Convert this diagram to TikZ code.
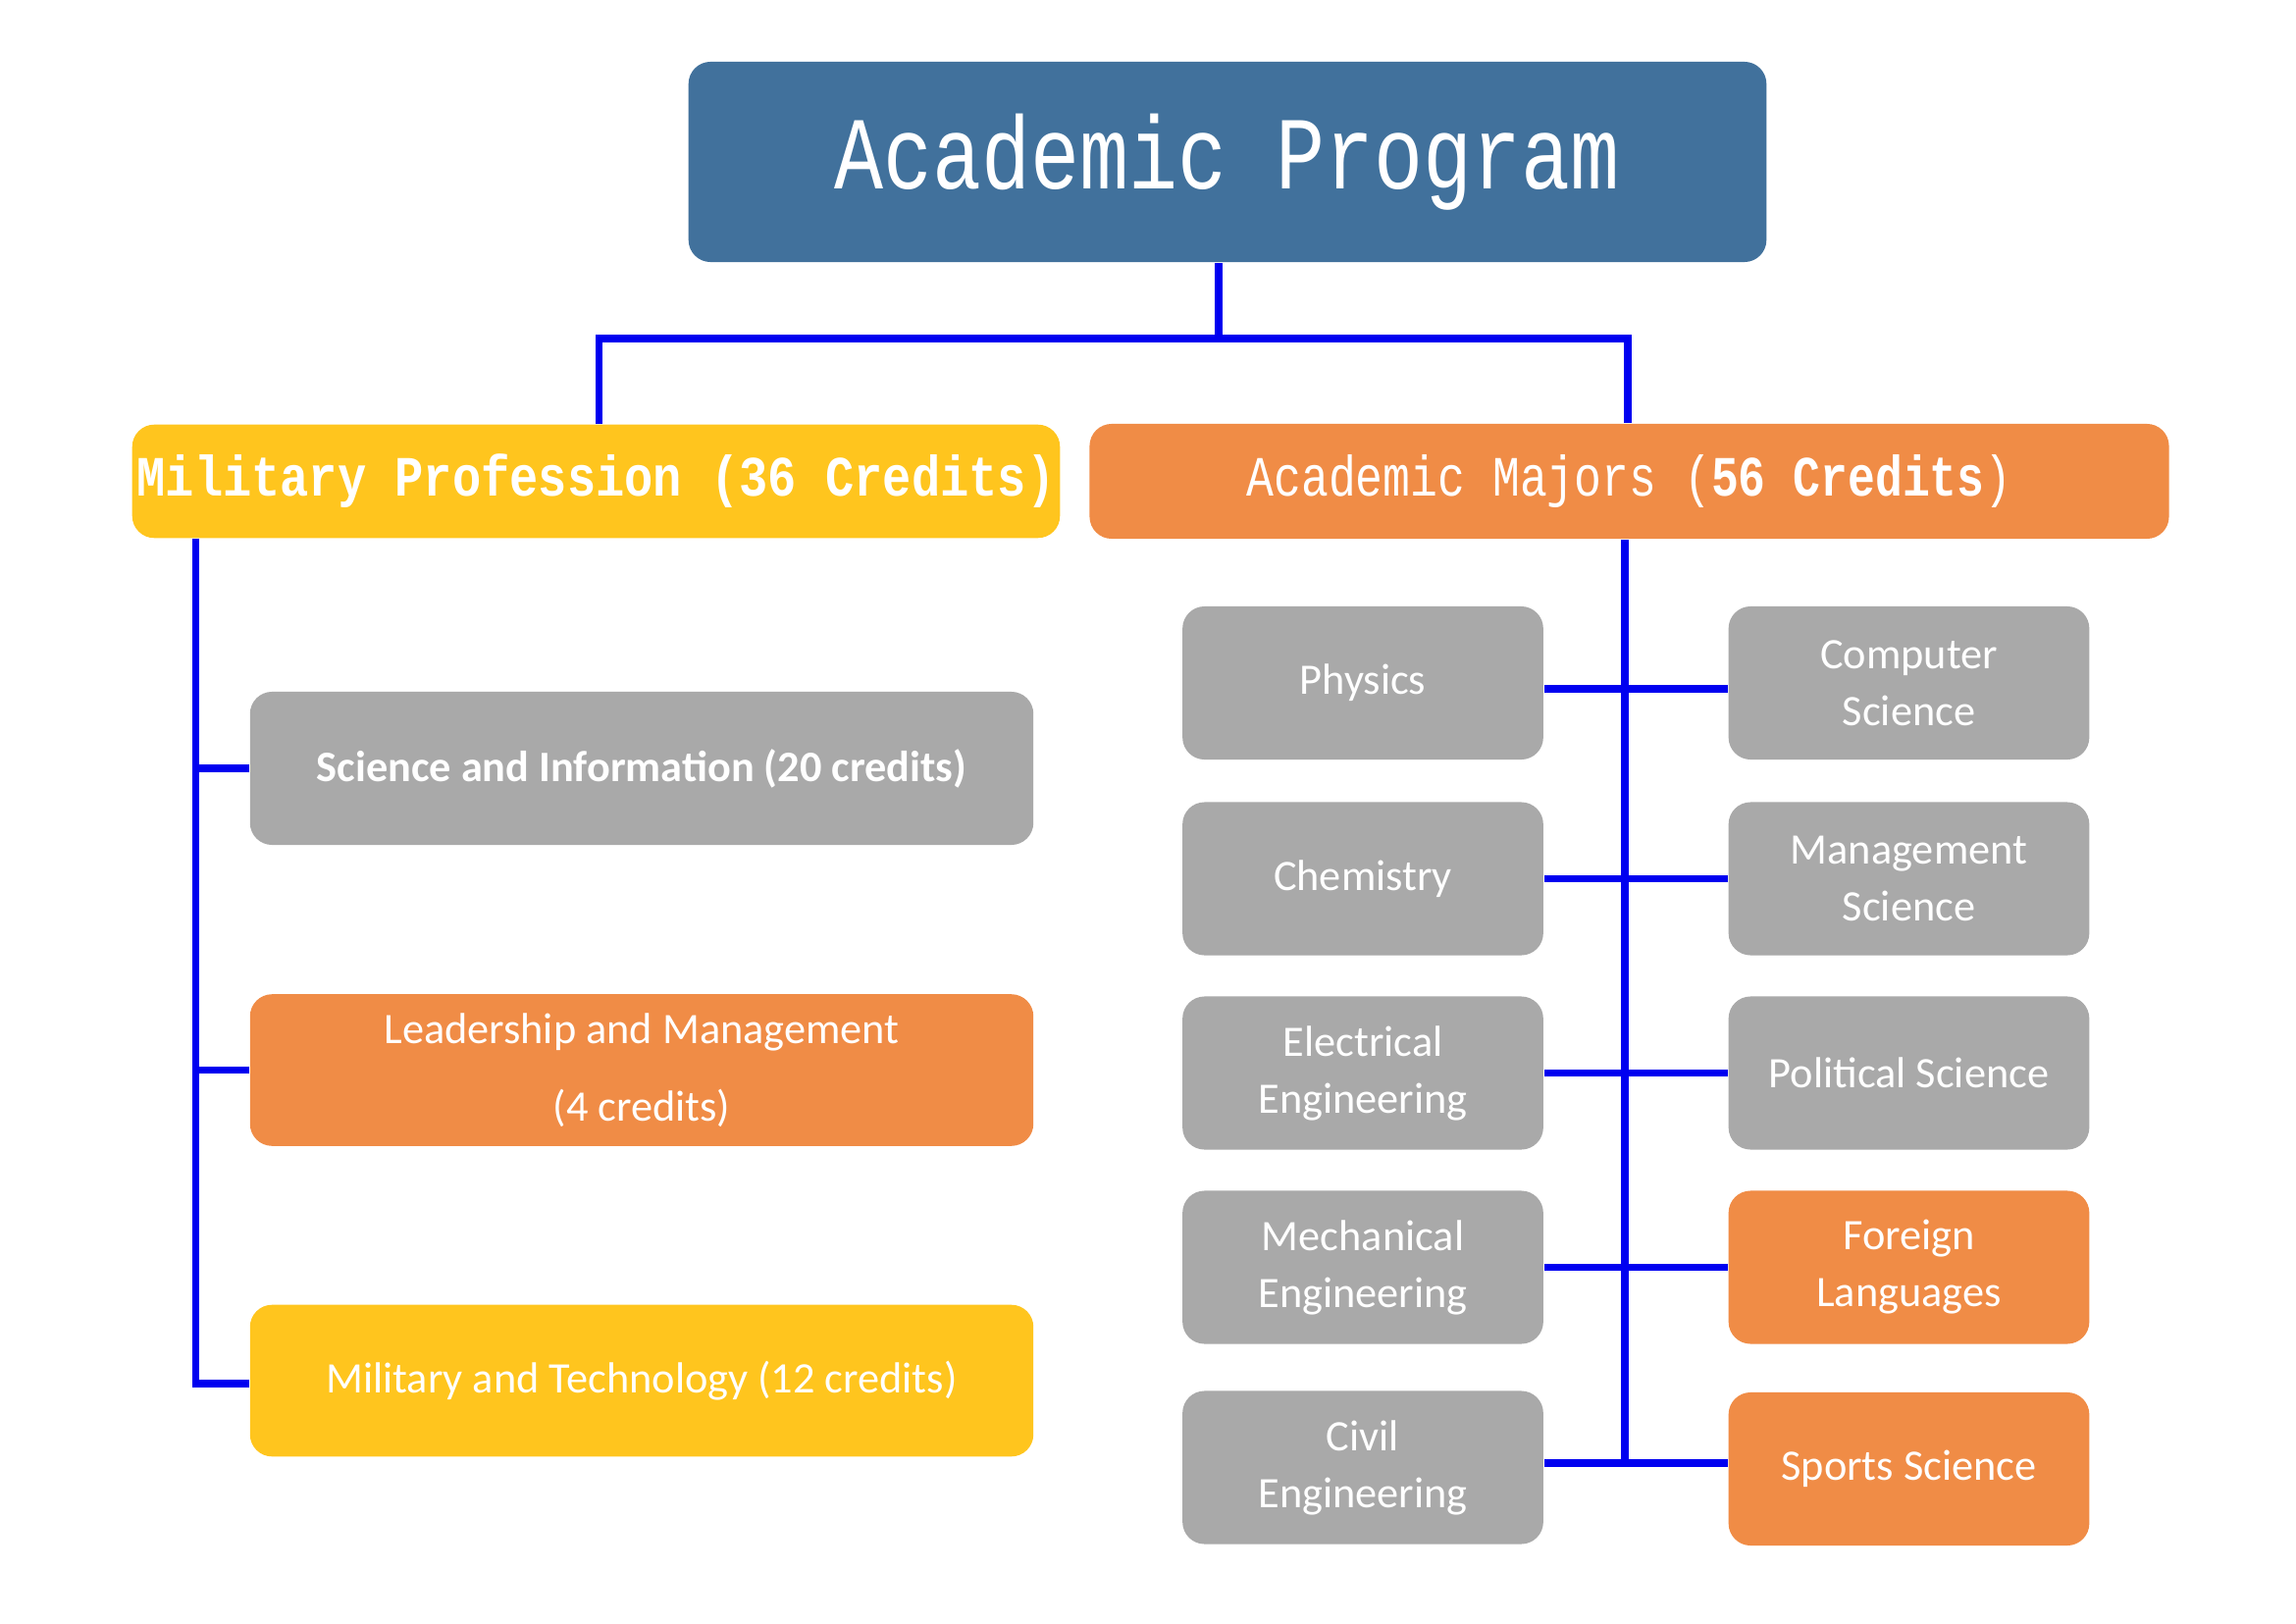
\documentclass[tikz,border=0pt]{standalone}
\usepackage{fontspec}
\setmainfont{Carlito}
\newfontfamily\monof{Liberation Mono}
\usetikzlibrary{positioning}

\definecolor{titleblue}{HTML}{41719C}
\definecolor{boxgray}{HTML}{A9A9A9}
\definecolor{boxorange}{HTML}{F08C46}
\definecolor{boxyellow}{HTML}{FFC51E}
\definecolor{linkblue}{HTML}{0000F0}

\tikzset{
  box/.style={rounded corners=0.15cm,text=white,align=center,inner sep=0pt,font=\fontsize{8.4}{11}\selectfont},
  link/.style={draw=linkblue,line width=1.4pt},
}

\begin{document}
\begin{tikzpicture}[x=0.01cm,y=-0.01cm]
\useasboundingbox (0,0) rectangle (1560,1103);

% title and the two groups
\node[box,fill=titleblue,minimum width=7.32cm,minimum height=1.36cm,font=\monof\fontsize{20}{24}\selectfont] (title) at (834,110) {\scalebox{0.79}[1]{Academic Program}};
\node[box,fill=boxyellow,minimum width=6.30cm,minimum height=0.77cm,font=\monof\bfseries\fontsize{11}{14}\selectfont] (mil) at (405,327) {\scalebox{0.84}[1]{Military Profession (36 Credits)}};
\node[box,fill=boxorange,minimum width=7.33cm,minimum height=0.78cm,font=\monof\fontsize{11}{14}\selectfont] (acad) at (1107,327) {\scalebox{0.8}[1]{Academic Majors (\textbf{56 Credits})}};

% military courses
\node[box,fill=boxgray,minimum width=5.32cm,minimum height=1.04cm,font=\bfseries\fontsize{8.4}{11}\selectfont] (sci) at (436,522) {Science and Information (20 credits)};
\node[box,fill=boxorange,minimum width=5.32cm,minimum height=1.03cm,font=\fontsize{8.4}{15}\selectfont] (lead) at (436,727) {Leadership and Management\\(4 credits)};
\node[box,fill=boxyellow,minimum width=5.32cm,minimum height=1.03cm] (tech) at (436,938) {Military and Technology (12 credits)};

% majors
\foreach \nm/\txt/\col/\y in {phy/Physics/boxgray/464, chem/Chemistry/boxgray/597, ee/Electrical\\Engineering/boxgray/729, me/Mechanical\\Engineering/boxgray/861, ce/Civil\\Engineering/boxgray/997}
  \node[box,fill=\col,minimum width=2.45cm,minimum height=1.04cm] (\nm) at (926,\y) {\txt};
\foreach \nm/\txt/\col/\y in {cs/Computer\\Science/boxgray/464, ms/Management\\Science/boxgray/597, ps/Political Science/boxgray/729, fl/Foreign\\Languages/boxorange/861, ss/Sports Science/boxorange/998}
  \node[box,fill=\col,minimum width=2.45cm,minimum height=1.04cm] (\nm) at (1297,\y) {\txt};

% connectors
\coordinate (tj) at (828,230);
\draw[link] (title.south -| tj) -- (tj);
\draw[link] (mil.north -| 407,0) -- (407,230) -- (1106,230) -- (acad.north -| 1106,0);
\draw[link] (mil.south -| 133,0) -- (133,940) -- (tech.west |- 0,940);
\draw[link] (133,522) -- (sci.west);
\draw[link] (133,727) -- (lead.west);
\draw[link] (acad.south -| 1104,0) -- (1104,994);
\foreach \a/\b/\y in {phy/cs/468, chem/ms/597, ee/ps/729, me/fl/861, ce/ss/994}
  \draw[link] (\a.east |- 0,\y) -- (\b.west |- 0,\y);
\end{tikzpicture}
\end{document}
